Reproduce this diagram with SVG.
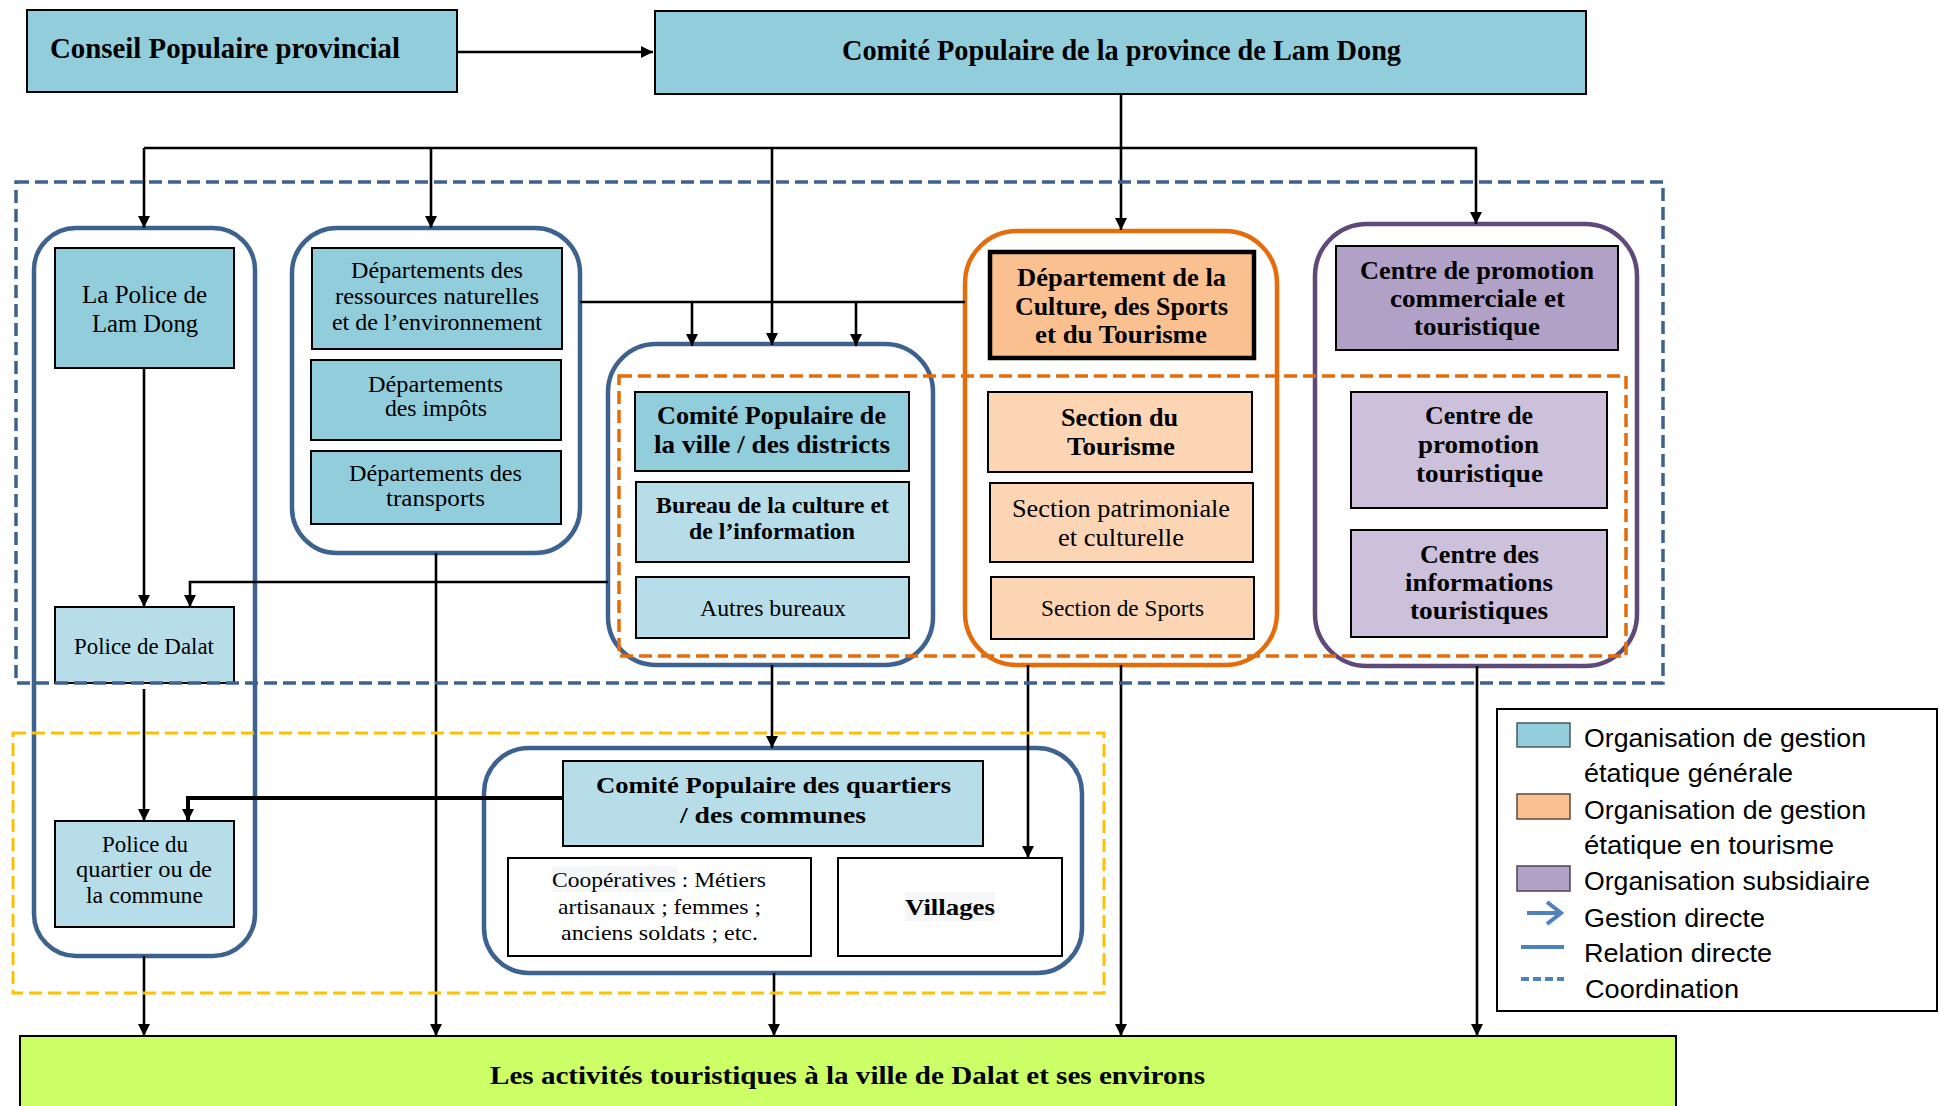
<svg xmlns="http://www.w3.org/2000/svg" width="1944" height="1106" viewBox="0 0 1944 1106">
<defs>
<marker id="ah" markerUnits="userSpaceOnUse" markerWidth="12" markerHeight="12" refX="12" refY="6" orient="auto"><path d="M0,0 L12,6 L0,12 z" fill="#000"/></marker>
<style>
.t{font-family:"Liberation Serif","DejaVu Serif",serif;fill:#000;text-anchor:middle}
.b{font-weight:bold}
.lg{font-family:"Liberation Sans",Arial,sans-serif;font-size:25px;fill:#000}
.bx{stroke:#000;stroke-width:2}
.c1{fill:#92CDDC}.c2{fill:#B7DEE8}.o1{fill:#FAC090}.o2{fill:#FCD5B4}.p1{fill:#B2A1C7}.p2{fill:#CCC0DA}
.grp{fill:#fff;stroke-width:4.5}
.gb{stroke:#3E6290}.go{stroke:#E46C0A}.gp{stroke:#5F497A}
.dash{fill:none;stroke-width:3.5;stroke-dasharray:13 6}
.cn{fill:none;stroke:#000;stroke-width:2.6}
</style>
</defs>
<rect width="1944" height="1106" fill="#fff"/>

<!-- group containers -->
<g id="grp-police"><rect class="grp gb" x="34" y="228" width="221" height="728" rx="42"/></g>
<g id="grp-departements"><rect class="grp gb" x="292" y="228" width="288" height="325" rx="45"/></g>
<g id="grp-ville"><rect class="grp gb" x="608" y="344" width="325" height="321" rx="48"/></g>
<g id="grp-culture"><rect class="grp go" x="965" y="231" width="312" height="434" rx="52"/></g>
<g id="grp-centres"><rect class="grp gp" x="1315" y="224" width="322" height="442" rx="52"/></g>
<g id="grp-quartiers"><rect class="grp gb" x="484" y="748" width="598" height="225" rx="45"/></g>

<!-- connectors -->
<g id="connectors">
<path class="cn" d="M457,52 H653" marker-end="url(#ah)"/>
<path class="cn" d="M1121,94 V230" marker-end="url(#ah)"/>
<path class="cn" d="M144,148 H1477"/>
<path class="cn" d="M144,148 V228" marker-end="url(#ah)"/>
<path class="cn" d="M431,148 V228" marker-end="url(#ah)"/>
<path class="cn" d="M772,148 V345" marker-end="url(#ah)"/>
<path class="cn" d="M1476,148 V224" marker-end="url(#ah)"/>
<path class="cn" d="M580,302 H965"/>
<path class="cn" d="M692,302 V346" marker-end="url(#ah)"/>
<path class="cn" d="M856,302 V346" marker-end="url(#ah)"/>
<path class="cn" d="M144,368 V607" marker-end="url(#ah)"/>
<path class="cn" d="M608,582 H190 V607" marker-end="url(#ah)"/>
<path class="cn" d="M144,689 V821" marker-end="url(#ah)"/>
<path class="cn" style="stroke-width:4" d="M563,798 H188 V821" marker-end="url(#ah)"/>
<path class="cn" d="M772,665 V748" marker-end="url(#ah)"/>
<path class="cn" d="M1028,665 V858" marker-end="url(#ah)"/>
<path class="cn" d="M436,553 V1036" marker-end="url(#ah)"/>
<path class="cn" d="M1121,665 V1036" marker-end="url(#ah)"/>
<path class="cn" d="M1477,666 V1036" marker-end="url(#ah)"/>
<path class="cn" d="M144,956 V1036" marker-end="url(#ah)"/>
<path class="cn" d="M774,973 V1036" marker-end="url(#ah)"/>
</g>

<!-- top nodes -->
<g id="conseil"><rect class="bx c1" x="27" y="10" width="430" height="82"/>
<text class="t b" x="225" y="58" font-size="29" textLength="350" lengthAdjust="spacingAndGlyphs">Conseil Populaire provincial</text></g>
<g id="comite-province"><rect class="bx c1" x="655" y="11" width="931" height="83"/>
<text class="t b" x="1121.5" y="60" font-size="29" textLength="559" lengthAdjust="spacingAndGlyphs">Comité Populaire de la province de Lam Dong</text></g>

<!-- police -->
<g id="police-lamdong"><rect class="bx c1" x="55" y="248" width="179" height="120"/>
<text class="t" x="144.5" y="303" font-size="26" textLength="125" lengthAdjust="spacingAndGlyphs">La Police de</text>
<text class="t" x="145" y="332" font-size="26" textLength="106" lengthAdjust="spacingAndGlyphs">Lam Dong</text></g>
<g id="police-dalat"><rect class="bx c2" x="55" y="607" width="179" height="76"/>
<text class="t" x="144" y="654" font-size="23" textLength="140" lengthAdjust="spacingAndGlyphs">Police de Dalat</text></g>
<g id="police-quartier"><rect class="bx c2" x="55" y="821" width="179" height="106"/>
<text class="t" x="145" y="852" font-size="23" textLength="86" lengthAdjust="spacingAndGlyphs">Police du</text>
<text class="t" x="144" y="877" font-size="23" textLength="136" lengthAdjust="spacingAndGlyphs">quartier ou de</text>
<text class="t" x="144.5" y="903" font-size="23" textLength="117" lengthAdjust="spacingAndGlyphs">la commune</text></g>

<!-- departements -->
<g id="dep-ressources"><rect class="bx c1" x="312" y="248" width="250" height="101"/>
<text class="t" x="437" y="278" font-size="23" textLength="172" lengthAdjust="spacingAndGlyphs">Départements des</text>
<text class="t" x="437" y="304" font-size="23" textLength="204" lengthAdjust="spacingAndGlyphs">ressources naturelles</text>
<text class="t" x="437" y="330" font-size="23" textLength="210" lengthAdjust="spacingAndGlyphs">et de l’environnement</text></g>
<g id="dep-impots"><rect class="bx c1" x="311" y="360" width="250" height="80"/>
<text class="t" x="435.5" y="392" font-size="23" textLength="135" lengthAdjust="spacingAndGlyphs">Départements</text>
<text class="t" x="436" y="416" font-size="23" textLength="102" lengthAdjust="spacingAndGlyphs">des impôts</text></g>
<g id="dep-transports"><rect class="bx c1" x="311" y="451" width="250" height="73"/>
<text class="t" x="435.5" y="481" font-size="23" textLength="173" lengthAdjust="spacingAndGlyphs">Départements des</text>
<text class="t" x="435.5" y="506" font-size="23" textLength="99" lengthAdjust="spacingAndGlyphs">transports</text></g>

<!-- ville -->
<g id="comite-ville"><rect class="bx c1" x="635" y="392" width="274" height="79"/>
<text class="t b" x="771.5" y="424" font-size="26" textLength="229" lengthAdjust="spacingAndGlyphs">Comité Populaire de</text>
<text class="t b" x="772" y="453" font-size="26" textLength="236" lengthAdjust="spacingAndGlyphs">la ville / des districts</text></g>
<g id="bureau-culture"><rect class="bx c2" x="636" y="482" width="273" height="80"/>
<text class="t b" x="772.5" y="513" font-size="24" textLength="233" lengthAdjust="spacingAndGlyphs">Bureau de la culture et</text>
<text class="t b" x="772" y="539" font-size="24" textLength="166" lengthAdjust="spacingAndGlyphs">de l’information</text></g>
<g id="autres-bureaux"><rect class="bx c2" x="636" y="577" width="273" height="61"/>
<text class="t" x="773" y="616" font-size="23" textLength="146" lengthAdjust="spacingAndGlyphs">Autres bureaux</text></g>

<!-- culture -->
<g id="dep-culture"><rect x="990" y="252" width="264" height="106" fill="#FAC090" stroke="#000" stroke-width="4.5"/>
<text class="t b" x="1121.5" y="286" font-size="25" textLength="209" lengthAdjust="spacingAndGlyphs">Département de la</text>
<text class="t b" x="1121.5" y="315" font-size="25" textLength="213" lengthAdjust="spacingAndGlyphs">Culture, des Sports</text>
<text class="t b" x="1121" y="343" font-size="25" textLength="172" lengthAdjust="spacingAndGlyphs">et du Tourisme</text></g>
<g id="section-tourisme"><rect class="bx o2" x="988" y="392" width="264" height="80"/>
<text class="t b" x="1119.5" y="426" font-size="26" textLength="117" lengthAdjust="spacingAndGlyphs">Section du</text>
<text class="t b" x="1121" y="455" font-size="26" textLength="108" lengthAdjust="spacingAndGlyphs">Tourisme</text></g>
<g id="section-patrimoniale"><rect class="bx o2" x="990" y="483" width="263" height="79"/>
<text class="t" x="1121" y="517" font-size="25" textLength="218" lengthAdjust="spacingAndGlyphs">Section patrimoniale</text>
<text class="t" x="1121" y="546" font-size="25" textLength="126" lengthAdjust="spacingAndGlyphs">et culturelle</text></g>
<g id="section-sports"><rect class="bx o2" x="991" y="577" width="263" height="62"/>
<text class="t" x="1122.5" y="616" font-size="23" textLength="163" lengthAdjust="spacingAndGlyphs">Section de Sports</text></g>

<!-- centres -->
<g id="centre-commercial"><rect class="bx p1" x="1336" y="246" width="282" height="104"/>
<text class="t b" x="1477" y="279" font-size="25" textLength="234" lengthAdjust="spacingAndGlyphs">Centre de promotion</text>
<text class="t b" x="1477.5" y="307" font-size="25" textLength="175" lengthAdjust="spacingAndGlyphs">commerciale et</text>
<text class="t b" x="1477" y="335" font-size="25" textLength="126" lengthAdjust="spacingAndGlyphs">touristique</text></g>
<g id="centre-promotion"><rect class="bx p2" x="1351" y="392" width="256" height="116"/>
<text class="t b" x="1479" y="424" font-size="25" textLength="108" lengthAdjust="spacingAndGlyphs">Centre de</text>
<text class="t b" x="1478.5" y="453" font-size="25" textLength="121" lengthAdjust="spacingAndGlyphs">promotion</text>
<text class="t b" x="1479.5" y="482" font-size="25" textLength="127" lengthAdjust="spacingAndGlyphs">touristique</text></g>
<g id="centre-informations"><rect class="bx p2" x="1351" y="530" width="256" height="107"/>
<text class="t b" x="1479.5" y="563" font-size="25" textLength="119" lengthAdjust="spacingAndGlyphs">Centre des</text>
<text class="t b" x="1479" y="591" font-size="25" textLength="148" lengthAdjust="spacingAndGlyphs">informations</text>
<text class="t b" x="1479" y="619" font-size="25" textLength="138" lengthAdjust="spacingAndGlyphs">touristiques</text></g>

<!-- quartiers -->
<g id="comite-quartiers"><rect class="bx c2" x="563" y="761" width="420" height="85"/>
<text class="t b" x="773.5" y="793" font-size="24" textLength="355" lengthAdjust="spacingAndGlyphs">Comité Populaire des quartiers</text>
<text class="t b" x="773" y="823" font-size="24" textLength="186" lengthAdjust="spacingAndGlyphs">/ des communes</text></g>
<g id="cooperatives"><rect class="bx" fill="#fff" x="508" y="858" width="303" height="98"/>
<rect x="552" y="866" width="125" height="26" fill="#F5F6F7"/>
<text class="t" x="659" y="887" font-size="22" textLength="214" lengthAdjust="spacingAndGlyphs">Coopératives : Métiers</text>
<text class="t" x="659.5" y="914" font-size="22" textLength="203" lengthAdjust="spacingAndGlyphs">artisanaux ; femmes ;</text>
<text class="t" x="659.5" y="940" font-size="22" textLength="197" lengthAdjust="spacingAndGlyphs">anciens soldats ; etc.</text></g>
<g id="villages"><rect class="bx" fill="#fff" x="838" y="858" width="224" height="98"/>
<rect x="905" y="892" width="90" height="29" fill="#F5F6F7"/>
<text class="t b" x="950" y="915" font-size="23" textLength="90" lengthAdjust="spacingAndGlyphs">Villages</text></g>

<!-- dashed coordination boxes -->
<g id="coordination-boxes">
<rect class="dash" x="16" y="182" width="1647" height="501" stroke="#3E6290"/>
<rect class="dash" x="619" y="376" width="1007" height="280" stroke="#E46C0A"/>
<rect class="dash" x="13" y="733" width="1091" height="260" stroke="#FFC000" style="stroke-width:3"/>
</g>

<!-- bottom -->
<g id="activites"><rect class="bx" fill="#CCFF66" x="20" y="1036" width="1656" height="90"/>
<text class="t b" x="847.5" y="1084" font-size="26" textLength="715" lengthAdjust="spacingAndGlyphs">Les activités touristiques à la ville de Dalat et ses environs</text></g>

<!-- legend -->
<g id="legend">
<rect x="1497" y="709" width="440" height="302" fill="#fff" stroke="#000" stroke-width="2"/>
<rect x="1517" y="723" width="53" height="24" fill="#92CDDC" stroke="#4A5A60" stroke-width="1.5"/>
<rect x="1517" y="794" width="53" height="25" fill="#FAC090" stroke="#5A4A40" stroke-width="1.5"/>
<rect x="1517" y="866" width="53" height="25" fill="#B2A1C7" stroke="#4A4456" stroke-width="1.5"/>
<path d="M1527,913 H1561 M1547,902 L1561,913 L1547,924" fill="none" stroke="#4F81BD" stroke-width="4"/>
<path d="M1521,947 H1564" stroke="#4F81BD" stroke-width="4"/>
<path d="M1521,979 H1564" stroke="#4F81BD" stroke-width="4" stroke-dasharray="8 4"/>
<text class="lg" x="1584" y="747" textLength="282" lengthAdjust="spacingAndGlyphs">Organisation de gestion</text>
<text class="lg" x="1584" y="782" textLength="209" lengthAdjust="spacingAndGlyphs">étatique générale</text>
<text class="lg" x="1584" y="819" textLength="282" lengthAdjust="spacingAndGlyphs">Organisation de gestion</text>
<text class="lg" x="1584" y="854" textLength="250" lengthAdjust="spacingAndGlyphs">étatique en tourisme</text>
<text class="lg" x="1584" y="890" textLength="286" lengthAdjust="spacingAndGlyphs">Organisation subsidiaire</text>
<text class="lg" x="1584" y="927" textLength="181" lengthAdjust="spacingAndGlyphs">Gestion directe</text>
<text class="lg" x="1584" y="962" textLength="188" lengthAdjust="spacingAndGlyphs">Relation directe</text>
<text class="lg" x="1585" y="998" textLength="154" lengthAdjust="spacingAndGlyphs">Coordination</text>
</g>
</svg>
